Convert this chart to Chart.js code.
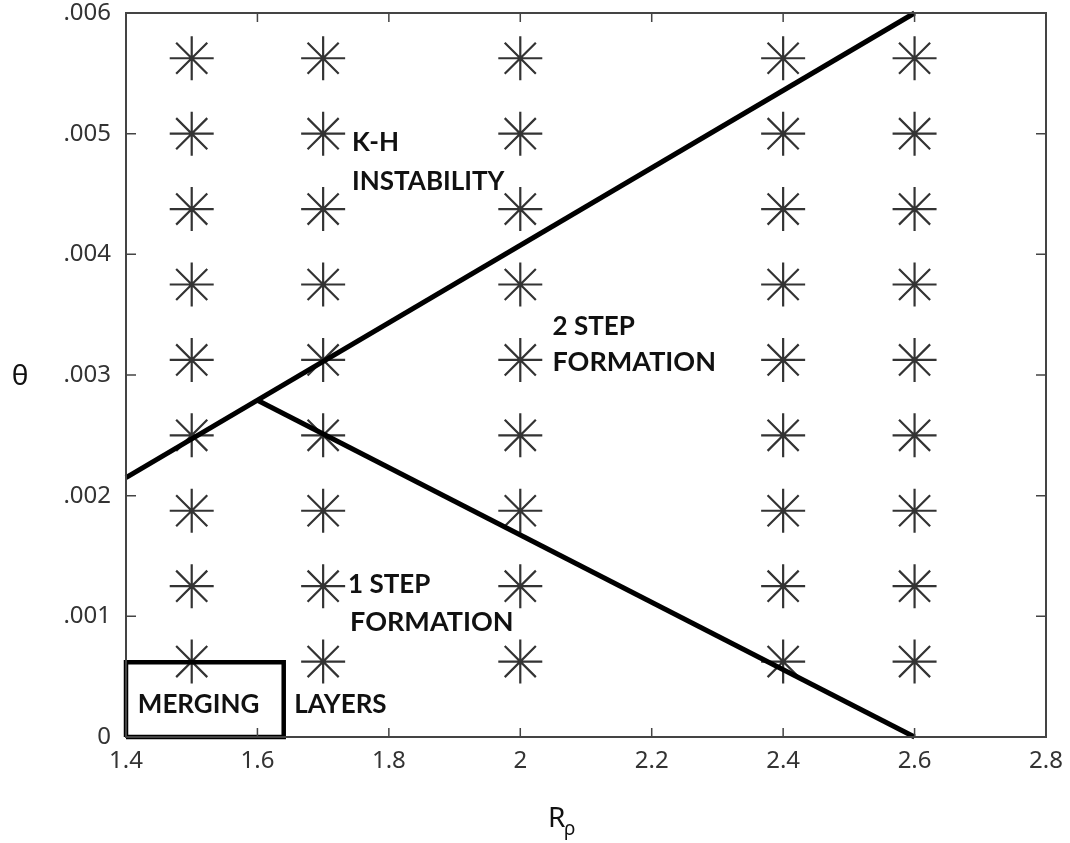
<!DOCTYPE html>
<html>
<head>
<meta charset="utf-8">
<script src="https://cdn.jsdelivr.net/npm/chart.js@4/dist/chart.umd.min.js"></script>
<style>
  html, body { margin: 0; padding: 0; background: #fff; }
  #wrap { width: 1070px; height: 843px; }
</style>
</head>
<body>
<div id="wrap"><canvas id="regimeChart" width="1070" height="843"></canvas></div>
<script>
// density ratio values where runs were made
const rhoValues = [1.5, 1.7, 2.0, 2.4, 2.6];
// slope values of the runs
const thetaValues = [0.000625, 0.00125, 0.001875, 0.0025, 0.003125, 0.00375, 0.004375, 0.005, 0.005625];

// K-H instability boundary
const khRho = [1.4, 2.6];
const khTheta = [0.00215, 0.006];

// 1 step / 2 step boundary
const stepRho = [1.6, 2.6];
const stepTheta = [0.00279, 0];

// merging layers box
const boxRho = [1.4, 1.4, 1.64, 1.64, 1.4];
const boxTheta = [0, 0.00062, 0.00062, 0, 0];

// axis ticks
const xTickValues = [1.4, 1.6, 1.8, 2.0, 2.2, 2.4, 2.6, 2.8];
const yTickValues = [0, 0.001, 0.002, 0.003, 0.004, 0.005, 0.006];

// region names
const labelTexts = ['K-H', 'INSTABILITY', '2 STEP', 'FORMATION', '1 STEP', 'FORMATION', 'MERGING', 'LAYERS'];
const labelRho = [1.744, 1.744, 2.049, 2.049, 1.738, 1.741, 1.418, 1.656];
const labelTheta = [0.00493, 0.004606, 0.003405, 0.003107, 0.00126, 0.000953, 0.000265, 0.000265];

function toPoints(xs, ys) {
    return xs.map((x, i) => ({ x: x, y: ys[i] }));
}

const runPoints = [];
rhoValues.forEach(r => {
    thetaValues.forEach(t => runPoints.push({ x: r, y: t }));
});

// frame, inner tick marks, region names and axis titles
const decorPlugin = {
    id: 'decor',
    afterDatasetsDraw(chart) {
        const ctx = chart.ctx;
        const a = chart.chartArea;
        const xs = chart.scales.x;
        const ys = chart.scales.y;
        ctx.save();

        ctx.strokeStyle = '#444';
        ctx.lineWidth = 1.5;
        ctx.beginPath();
        xTickValues.forEach(v => {
            const px = xs.getPixelForValue(v);
            ctx.moveTo(px, a.bottom); ctx.lineTo(px, a.bottom - 9);
            ctx.moveTo(px, a.top); ctx.lineTo(px, a.top + 9);
        });
        yTickValues.forEach(v => {
            const py = ys.getPixelForValue(v);
            ctx.moveTo(a.left, py); ctx.lineTo(a.left + 10, py);
            ctx.moveTo(a.right, py); ctx.lineTo(a.right - 10, py);
        });
        ctx.stroke();

        ctx.lineWidth = 2;
        ctx.strokeRect(a.left, a.top, a.right - a.left, a.bottom - a.top);

        ctx.fillStyle = '#111';
        ctx.textAlign = 'left';
        ctx.textBaseline = 'middle';
        labelTexts.forEach((txt, i) => {
            ctx.font = (txt === 'FORMATION' ? 'bold 27px Lato' : 'bold 26px Lato');
            ctx.fillText(txt, xs.getPixelForValue(labelRho[i]), ys.getPixelForValue(labelTheta[i]));
        });

        ctx.fillStyle = '#111';
        ctx.font = '28px "Noto Sans"';
        ctx.textAlign = 'center';
        ctx.fillText('\u03b8', 20, (a.top + a.bottom) / 2 + 2);

        ctx.textAlign = 'left';
        ctx.fillText('R', 548, 819);
        ctx.font = '19px "Noto Sans"';
        ctx.fillText('\u03c1', 564, 830);
        ctx.restore();
    }
};

function noScalePadding(s) {
    s.paddingTop = 0;
    s.paddingBottom = 0;
    s.paddingLeft = 0;
    s.paddingRight = 0;
}

new Chart(document.getElementById('regimeChart'), {
    type: 'scatter',
    data: {
        datasets: [
            {
                type: 'line',
                data: toPoints(khRho, khTheta),
                borderColor: '#000',
                borderWidth: 5,
                pointRadius: 0,
                fill: false,
                clip: false
            },
            {
                type: 'line',
                data: toPoints(stepRho, stepTheta),
                borderColor: '#000',
                borderWidth: 5,
                pointRadius: 0,
                fill: false,
                clip: false
            },
            {
                type: 'line',
                data: toPoints(boxRho, boxTheta),
                borderColor: '#000',
                borderWidth: 4.5,
                pointRadius: 0,
                fill: false,
                clip: false
            },
            {
                data: runPoints,
                pointStyle: 'star',
                pointRadius: 22,
                pointHoverRadius: 22,
                pointBorderColor: '#333',
                pointBackgroundColor: '#333',
                pointBorderWidth: 2.2,
                showLine: false
            }
        ]
    },
    options: {
        responsive: false,
        animation: false,
        events: [],
        layout: { autoPadding: false, padding: { left: 0, right: 24, top: 13, bottom: 0 } },
        plugins: {
            legend: { display: false },
            tooltip: { enabled: false }
        },
        scales: {
            x: {
                type: 'linear',
                min: 1.4,
                max: 2.8,
                afterBuildTicks: s => { s.ticks = xTickValues.map(v => ({ value: v })); },
                afterFit: s => { s.height = 106; noScalePadding(s); },
                grid: { display: false, drawTicks: false },
                border: { display: false },
                ticks: {
                    padding: 10,
                    color: '#333',
                    font: { family: 'Noto Sans', size: 24 },
                    maxRotation: 0,
                    autoSkip: false,
                    callback: v => String(Number(v.toFixed(1)))
                }
            },
            y: {
                type: 'linear',
                min: 0,
                max: 0.006,
                afterBuildTicks: s => { s.ticks = yTickValues.map(v => ({ value: v })); },
                afterFit: s => { s.width = 126; noScalePadding(s); },
                grid: { display: false, drawTicks: false },
                border: { display: false },
                ticks: {
                    padding: 15,
                    color: '#333',
                    font: { family: 'Noto Sans', size: 24 },
                    autoSkip: false,
                    callback: v => v === 0 ? '0' : v.toFixed(3).replace(/^0/, '')
                }
            }
        }
    },
    plugins: [decorPlugin]
});
</script>
</body>
</html>
